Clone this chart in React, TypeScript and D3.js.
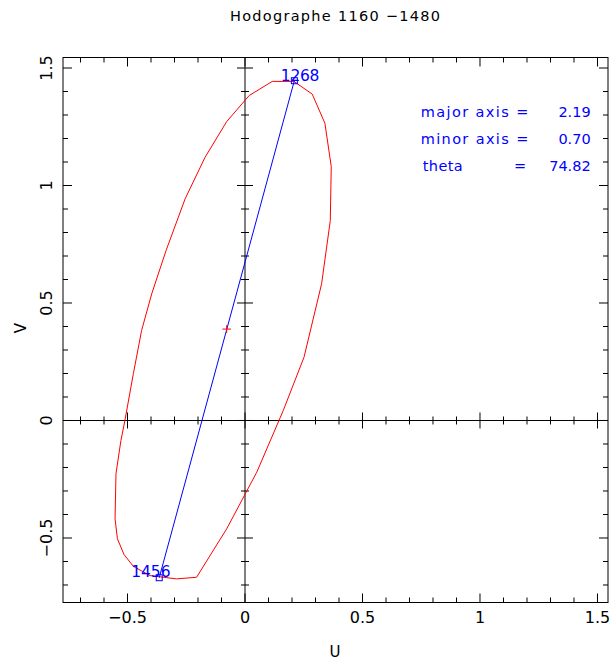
import React from "react";
import * as d3 from "d3";

const TITLE = "Hodographe 1160 \u22121480";
const X_LABEL = "U";
const Y_LABEL = "V";
const DOMAIN: [number, number] = [-0.7745, 1.5447];
const MAJOR_TICKS = [-0.5, 0, 0.5, 1, 1.5];
const MAJOR_LABELS = ["\u22120.5", "0", "0.5", "1", "1.5"];
const MINOR_TICKS = d3.range(-7, 16).map((i) => i / 10);

// hodograph (closed polyline)
const ELL_U = [0.116, 0.208, 0.286, 0.34, 0.367, 0.363, 0.326, 0.251, 0.163, 0.05, -0.078, -0.206, -0.291, -0.404, -0.475, -0.515, -0.543, -0.553, -0.549, -0.528, -0.511, -0.475, -0.44, -0.397, -0.336, -0.255, -0.17, -0.078, 0.018, 0.116];
const ELL_V = [1.443, 1.443, 1.389, 1.265, 1.081, 0.851, 0.582, 0.269, 0.043, -0.22, -0.461, -0.667, -0.674, -0.66, -0.621, -0.57, -0.503, -0.418, -0.226, -0.085, 0.0, 0.2, 0.383, 0.539, 0.723, 0.943, 1.12, 1.272, 1.383, 1.443];

// major axis end points
const END_LABELS = ["1268", "1456"];
const END_U = [0.21, -0.365];
const END_V = [1.446, -0.669];
const CENTER_U = -0.078;
const CENTER_V = 0.389;

const INFO_NAMES = ["major axis =", "minor axis =", "theta"];
const INFO_VALUES = ["2.19", "0.70", "74.82"];

const FONT = "DejaVu Sans, sans-serif";

export default function App() {
  const W = 611, H = 662;
  const x = d3.scaleLinear().domain(DOMAIN).range([63, 608]);
  const y = d3.scaleLinear().domain(DOMAIN).range([602.5, 57.5]);
  const [x0, x1] = x.range();
  const [yb, yt] = y.range();
  const line = d3.line<[number, number]>().x((d) => x(d[0])).y((d) => y(d[1]));
  const ellPts = ELL_U.map((u, i) => [u, ELL_V[i]] as [number, number]);
  const axisPts = END_U.map((u, i) => [u, END_V[i]] as [number, number]);
  const isMajor = (t: number) => MAJOR_TICKS.some((m) => Math.abs(m - t) < 1e-6);
  const k = "#000";

  return (
    <svg width={W} height={H} style={{ position: "absolute", left: 0, top: 0, background: "#fff" }}>
      <rect x={0} y={0} width={W} height={H} fill="#fff" />
      <text x={335} y={21} textAnchor="middle" fontFamily={FONT} fontSize={14.5} textLength={210} lengthAdjust="spacing" fill="#000">{TITLE}</text>

      {/* frame */}
      <rect x={x0} y={yt} width={x1 - x0} height={yb - yt} fill="none" stroke={k} strokeWidth={1} />
      {/* frame ticks */}
      {MINOR_TICKS.map((t) => {
        const L = isMajor(t) ? 9 : 5;
        const px = x(t), py = y(t);
        return (
          <g key={"ft" + t} stroke={k} strokeWidth={1}>
            <line x1={px} x2={px} y1={yb} y2={yb - L} />
            <line x1={px} x2={px} y1={yt} y2={yt + L} />
            <line x1={x0} x2={x0 + L} y1={py} y2={py} />
            <line x1={x1} x2={x1 - L} y1={py} y2={py} />
          </g>
        );
      })}
      {/* zero axes */}
      <line x1={x(0)} x2={x(0)} y1={yt} y2={yb} stroke={k} strokeWidth={1} />
      <line x1={x0} x2={x1} y1={y(0)} y2={y(0)} stroke={k} strokeWidth={1} />
      {MINOR_TICKS.map((t) => {
        const L = isMajor(t) ? 8 : 4;
        return (
          <g key={"zt" + t} stroke={k} strokeWidth={1}>
            <line x1={x(t)} x2={x(t)} y1={y(0) - L} y2={y(0) + L} />
            <line x1={x(0) - L} x2={x(0) + L} y1={y(t)} y2={y(t)} />
          </g>
        );
      })}

      {/* tick labels */}
      {MAJOR_TICKS.map((t, i) => (
        <text key={"xl" + t} x={x(t)} y={623.3} textAnchor="middle" fontFamily={FONT} fontSize={16} fill="#000">{MAJOR_LABELS[i]}</text>
      ))}
      {MAJOR_TICKS.map((t, i) => (
        <text key={"yl" + t} transform={`translate(51.7,${y(t)}) rotate(-90)`} textAnchor="middle" fontFamily={FONT} fontSize={16} fill="#000">{MAJOR_LABELS[i]}</text>
      ))}
      <text x={335} y={657} textAnchor="middle" fontFamily={FONT} fontSize={15} fill="#000">{X_LABEL}</text>
      <text transform={`translate(26,328) rotate(-90)`} textAnchor="middle" fontFamily={FONT} fontSize={15} fill="#000">{Y_LABEL}</text>

      {/* hodograph */}
      <path d={line(ellPts) ?? ""} fill="none" stroke="#ff0000" strokeWidth={1} />
      <path d={line(axisPts) ?? ""} fill="none" stroke="#0000ff" strokeWidth={1} />
      {axisPts.map((p, i) => (
        <rect key={"sq" + i} x={x(p[0]) - 3} y={y(p[1]) - 3} width={6} height={6} fill="none" stroke="#0000ff" strokeWidth={1} />
      ))}
      <text x={x(END_U[0]) - 13.5} y={y(END_V[0]) + 0.5} fontFamily={FONT} fontSize={15.5} fill="#0000ff" textLength={38.6} lengthAdjust="spacing">{END_LABELS[0]}</text>
      <text x={x(END_U[1]) - 28} y={y(END_V[1]) - 0.5} fontFamily={FONT} fontSize={15.5} fill="#0000ff" textLength={39.3} lengthAdjust="spacing">{END_LABELS[1]}</text>
      <g stroke="#ff0000" strokeWidth={1}>
        <line x1={x(CENTER_U) - 4.3} x2={x(CENTER_U) + 4.3} y1={y(CENTER_V)} y2={y(CENTER_V)} />
        <line x1={x(CENTER_U)} x2={x(CENTER_U)} y1={y(CENTER_V) - 4} y2={y(CENTER_V) + 4} />
      </g>

      {/* info */}
      <g fontFamily={FONT} fontSize={14.5} fill="#0000ff">
        <text x={420.7} y={117.3} textLength={107.6} lengthAdjust="spacing">{INFO_NAMES[0]}</text>
        <text x={590.7} y={117.3} textAnchor="end">{INFO_VALUES[0]}</text>
        <text x={420.7} y={144} textLength={107.6} lengthAdjust="spacing">{INFO_NAMES[1]}</text>
        <text x={590.7} y={144} textAnchor="end">{INFO_VALUES[1]}</text>
        <text x={422.7} y={171} textLength={40} lengthAdjust="spacing">{INFO_NAMES[2]}</text>
        <text x={514} y={171}>=</text>
        <text x={590.7} y={171} textAnchor="end">{INFO_VALUES[2]}</text>
      </g>
    </svg>
  );
}
